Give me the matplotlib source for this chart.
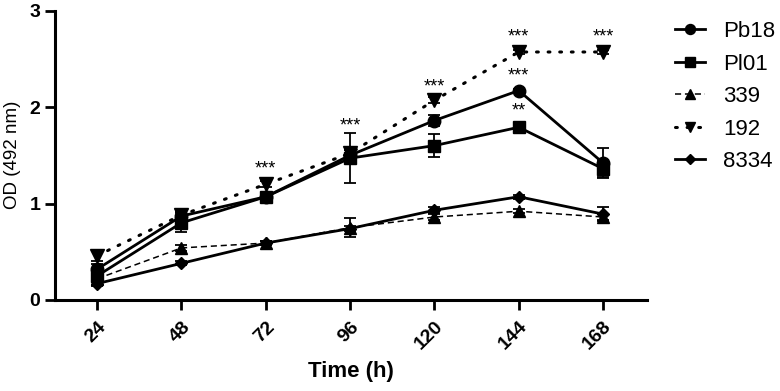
import matplotlib
matplotlib.use('Agg')
import matplotlib.pyplot as plt
import numpy as np

plt.rcParams['font.family'] = ['Liberation Sans', 'DejaVu Sans']

# time points (h)
time = [24, 48, 72, 96, 120, 144, 168]

# mean OD (492 nm) per strain
pb18 = [0.32, 0.87, 1.07, 1.50, 1.86, 2.17, 1.42]
pl01 = [0.25, 0.80, 1.07, 1.47, 1.60, 1.79, 1.36]
s339 = [0.22, 0.54, 0.59, 0.75, 0.86, 0.92, 0.86]
s192 = [0.46, 0.88, 1.20, 1.52, 2.07, 2.57, 2.57]
s8334 = [0.17, 0.38, 0.59, 0.74, 0.93, 1.07, 0.89]

# error bars (sd)
pb18_err = [0.05, 0.04, 0.03, 0.05, 0.06, 0.02, 0.16]
pl01_err = [0.05, 0.10, 0.03, 0.26, 0.12, 0.03, 0.09]
s339_err = [0.03, 0.03, 0.02, 0.10, 0.03, 0.02, 0.03]
s192_err = [0.06, 0.04, 0.03, 0.03, 0.03, 0.02, 0.02]
s8334_err = [0.03, 0.02, 0.02, 0.03, 0.03, 0.02, 0.07]

# significance marks
sig_x = [72, 96, 120, 144, 144, 144, 168]
sig_y = [1.36, 1.80, 2.21, 2.73, 2.32, 1.96, 2.73]
sig_txt = ['***', '***', '***', '***', '***', '**', '***']

fig = plt.figure(figsize=(7.8, 3.91), dpi=100)
ax = fig.add_axes([55/780, 1 - 300/391, 592/780, 289.5/391])

lw = 2.0
ms = 8.5
cap = dict(capsize=4, elinewidth=1.3, capthick=1.3, ecolor='black')

e8334 = ax.errorbar(time, s8334, yerr=s8334_err, color='black', lw=lw, marker='D', ms=ms - 2.5,
                    zorder=3, **cap)
e339 = ax.errorbar(time, s339, yerr=s339_err, color='black', lw=1.1, ls=(0, (4, 2.5)), marker='^', ms=ms,
                   zorder=3, **cap)
e192 = ax.errorbar(time, s192, yerr=s192_err, color='black', lw=2.2, ls=(0, (0.6, 3.2)), marker='v', ms=ms + 1,
                   zorder=3, dash_capstyle='round', **cap)
epl01 = ax.errorbar(time, pl01, yerr=pl01_err, color='black', lw=lw, marker='s', ms=ms,
                    zorder=4, **cap)
epb18 = ax.errorbar(time, pb18, yerr=pb18_err, color='black', lw=lw, marker='o', ms=ms + 0.5,
                    zorder=4, **cap)

for x, y, t in zip(sig_x, sig_y, sig_txt):
    ax.text(x, y, t, ha='center', va='center', fontsize=13)

ax.set_xlim(12, 180.5)
ax.set_ylim(0, 3)
ax.set_xticks(time)
ax.set_xticklabels([str(t) for t in time], rotation=45, ha='right', rotation_mode='anchor',
                   fontsize=14, fontweight='bold')
ax.set_yticks([0, 1, 2, 3])
ax.set_yticklabels(['0', '1', '2', '3'], fontsize=14, fontweight='bold')
ax.tick_params(axis='both', width=2, length=7, direction='out')
ax.tick_params(axis='x', pad=6)
for s in ['top', 'right']:
    ax.spines[s].set_visible(False)
for s in ['left', 'bottom']:
    ax.spines[s].set_linewidth(2.2)

ax.set_xlabel('Time (h)', fontsize=16, fontweight='bold', labelpad=6)
ax.set_ylabel('OD (492 nm)', fontsize=13.5, labelpad=6)

labels = ['Pb18', 'Pl01', '339', '192', '8334']
handles = [epb18[0], epl01[0], e339[0], e192[0], e8334[0]]
fig.legend(handles, labels, loc='upper left', bbox_to_anchor=(675/780, 1 - 21/391),
           frameon=False, fontsize=16, handlelength=1.35, labelspacing=0.52, handletextpad=0.8,
           borderpad=0, borderaxespad=0, markerscale=0.8)

fig.savefig('out.png', dpi=100)
